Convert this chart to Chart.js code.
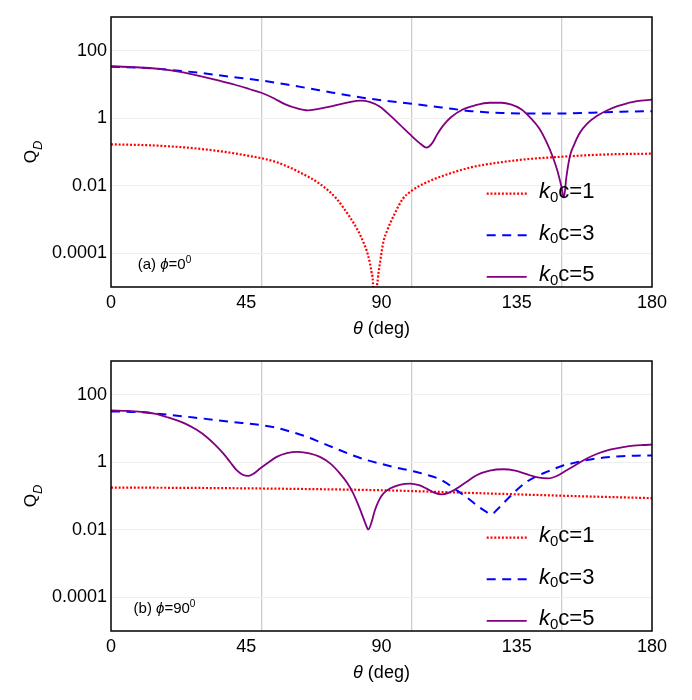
<!DOCTYPE html>
<html>
<head>
<meta charset="utf-8">
<script src="https://cdn.jsdelivr.net/npm/chart.js@4.4.1/dist/chart.umd.min.js"></script>
<style>
body { margin: 0; background: #fff; }
#wrap { position: relative; width: 692px; height: 700px; }
.panel { position: absolute; left: 0; width: 692px; }
</style>
</head>
<body>
<div id="wrap">
  <div class="panel" style="top:0;height:344px"><canvas id="chartA"></canvas></div>
  <div class="panel" style="top:344px;height:356px"><canvas id="chartB"></canvas></div>
</div>
<script>
// axes
const xTickValues = [0, 45, 90, 135, 180];
const xGridValues = [50, 100, 150];
const yTickValues = [0.0001, 0.01, 1, 100];
const yTickLabels = ["0.0001", "0.01", "1", "100"];
const kValues = [1, 3, 5];

// (a) phi = 0
const thetaA1 = [0, 15, 30, 45, 55, 63, 70, 75, 79, 82, 84, 85.5, 86.7, 87.3, 87.7, 88.2, 88.8, 89.5, 90.6, 92, 94, 97, 100, 105, 110, 120, 130, 140, 150, 160, 170, 180];
const qA1 = [0.169, 0.155, 0.123, 0.0794, 0.0501, 0.0245, 0.0105, 0.00417, 0.00135, 0.0005, 0.00021, 0.000089, 0.000027, 0.0000063, 0.00000001, 0.0000032, 0.000018, 0.000052, 0.00021, 0.0005, 0.00126, 0.00398, 0.0071, 0.0126, 0.019, 0.0355, 0.0501, 0.0631, 0.0724, 0.0813, 0.0871, 0.0891];

const thetaA3 = [0, 10, 20, 30, 40, 50, 60, 70, 80, 90, 100, 110, 120, 130, 140, 150, 160, 170, 180];
const qA3 = [33.3, 31.6, 26.9, 21.9, 16.8, 13.1, 9.44, 6.61, 4.57, 3.39, 2.69, 2.09, 1.62, 1.43, 1.38, 1.38, 1.46, 1.57, 1.62];

const thetaA5 = [0, 7, 16, 24, 30, 36, 41, 46, 50, 54, 58, 62, 65.5, 69, 74, 79, 83, 86, 89.5, 93, 96, 99.5, 102.5, 105, 107, 108.5, 110.5, 113, 117, 121, 126, 130, 133, 136.5, 139.5, 142.5, 145, 147, 148.5, 149.8, 150.7, 151.5, 152.7, 154, 156, 158.5, 161.5, 165, 168.5, 172, 175, 180];
const qA5 = [34.75, 32.9, 29.1, 22.9, 17.4, 12.97, 10, 7.36, 5.69, 3.98, 2.57, 1.95, 1.72, 1.91, 2.34, 2.95, 3.31, 3.05, 2.19, 1.17, 0.66, 0.331, 0.19, 0.135, 0.19, 0.331, 0.603, 1.05, 1.82, 2.4, 2.88, 2.88, 2.57, 1.86, 1.05, 0.5, 0.19, 0.0708, 0.0282, 0.01, 0.00447, 0.0178, 0.0759, 0.158, 0.372, 0.708, 1.15, 1.7, 2.29, 2.82, 3.24, 3.55];

// (b) phi = 90
const thetaB1 = [0, 30, 60, 90, 120, 150, 180];
const qB1 = [0.178, 0.173, 0.163, 0.148, 0.123, 0.102, 0.0863];

const thetaB3 = [0, 10, 20, 30, 40, 50, 55, 60, 65, 70, 75, 80, 85, 90, 95, 100, 105, 110, 115, 118.5, 121.6, 124.5, 126.6, 128.5, 131.6, 135, 138.3, 141.5, 145, 150, 155, 160, 165, 170, 175, 180];
const qB3 = [32.1, 30.2, 25.1, 20.0, 15.8, 12.6, 10.5, 7.94, 5.75, 3.8, 2.51, 1.66, 1.17, 0.891, 0.692, 0.555, 0.427, 0.295, 0.148, 0.0891, 0.0537, 0.0355, 0.029, 0.0398, 0.0759, 0.151, 0.263, 0.38, 0.518, 0.776, 1.0, 1.23, 1.41, 1.51, 1.57, 1.58];

const thetaB5 = [0, 6, 11, 15, 18.5, 22, 25.2, 28.5, 31.8, 34.5, 37.4, 39.7, 41.8, 43.8, 45.7, 47.6, 49.6, 52, 55.1, 58.5, 62.3, 66, 69.5, 73, 76.2, 78.5, 80.6, 82.2, 83.4, 84.6, 85.6, 86.6, 87.8, 89.2, 90.6, 92.8, 96, 99.5, 102.5, 105, 107.5, 110, 112.5, 115, 118, 121.6, 126, 130.5, 134.5, 138.3, 142, 145.5, 148.5, 151.6, 155, 158.3, 162, 166, 170, 173.8, 177, 180];
const qB5 = [34.4, 33.1, 30.8, 26.9, 21.9, 17.4, 13.3, 9.12, 5.62, 3.39, 1.8, 1.0, 0.581, 0.427, 0.394, 0.468, 0.65, 0.933, 1.44, 1.86, 2.02, 1.82, 1.44, 0.912, 0.462, 0.251, 0.12, 0.0562, 0.0302, 0.0158, 0.0102, 0.0158, 0.038, 0.0759, 0.117, 0.166, 0.214, 0.234, 0.209, 0.166, 0.126, 0.111, 0.126, 0.166, 0.251, 0.413, 0.562, 0.621, 0.562, 0.442, 0.355, 0.331, 0.398, 0.581, 0.871, 1.29, 1.82, 2.37, 2.75, 3.09, 3.24, 3.33];

// styles
const lineColors = ["#ff0000", "#0000ff", "#800080"];
const lineDashes = [[2, 1.8], [9, 6.5], []];
const lineWidths = [2.2, 2, 1.8];
const FONT = '"Liberation Sans", Arial, Helvetica, sans-serif';

function drawRuns(ctx, runs, x, y, align) {
    let total = 0;
    runs.forEach(r => {
        ctx.font = (r.it ? "italic " : "") + r.size + "px " + FONT;
        r.w = ctx.measureText(r.t).width;
        total += r.w;
    });
    let cx = align === "center" ? x - total / 2 : x;
    runs.forEach(r => {
        ctx.font = (r.it ? "italic " : "") + r.size + "px " + FONT;
        ctx.fillText(r.t, cx, y + (r.dy || 0));
        cx += r.w;
    });
}

const framePlugin = {
    id: "frame",
    afterDraw(chart) {
        const a = chart.chartArea, ctx = chart.ctx;
        ctx.save();
        ctx.strokeStyle = "#000";
        ctx.lineWidth = 1.5;
        ctx.strokeRect(a.left, a.top, a.right - a.left, a.bottom - a.top);
        ctx.restore();
    }
};

const textPlugin = {
    id: "texts",
    afterDraw(chart, args, opts) {
        const a = chart.chartArea, ctx = chart.ctx;
        ctx.save();
        ctx.fillStyle = "#000";
        ctx.textBaseline = "alphabetic";

        // x title
        drawRuns(ctx, [{t: "\u03B8", it: true, size: 18}, {t: " (deg)", size: 18}],
            (a.left + a.right) / 2, a.bottom + 47, "center");

        // y title
        ctx.save();
        ctx.translate(36, (a.top + a.bottom) / 2);
        ctx.rotate(-Math.PI / 2);
        drawRuns(ctx, [{t: "Q", size: 17}, {t: "D", it: true, size: 13, dy: 5.5}], 0, 0, "center");
        ctx.restore();

        // panel tag
        drawRuns(ctx, [{t: opts.tag + " ", size: 15}, {t: "\u03D5", it: true, size: 15},
            {t: "=" + opts.phi, size: 15}, {t: "0", size: 10, dy: -6}],
            a.left + 53.5, a.top + 252, "center");

        // legend
        chart.data.datasets.forEach((ds, i) => {
            const ly = a.top + 176.7 + i * 41.6;
            ctx.save();
            ctx.strokeStyle = ds.borderColor;
            ctx.lineWidth = ds.borderWidth;
            ctx.setLineDash(ds.borderDash);
            ctx.beginPath();
            ctx.moveTo(a.left + 375.7, ly);
            ctx.lineTo(a.left + 415.7, ly);
            ctx.stroke();
            ctx.restore();
            drawRuns(ctx, [{t: "k", it: true, size: 22}, {t: "0", size: 15, dy: 3.5},
                {t: "c=" + ds.k, size: 22}], a.left + 428, ly + 4.5, "left");
        });
        ctx.restore();
    }
};

function makePanel(id, height, series, tag, phi) {
    const xMarks = xTickValues.concat(xGridValues).sort((p, q) => p - q);
    return new Chart(document.getElementById(id), {
        type: "line",
        data: {
            datasets: series.map((s, i) => ({
                label: "k\u2080c=" + kValues[i],
                k: kValues[i],
                data: s[0].map((t, j) => ({x: t, y: s[1][j]})),
                borderColor: lineColors[i],
                borderDash: lineDashes[i],
                borderWidth: lineWidths[i],
                pointRadius: 0,
                fill: false,
                order: series.length - 1 - i,
                cubicInterpolationMode: "monotone"
            }))
        },
        options: {
            responsive: true,
            maintainAspectRatio: false,
            animation: false,
            layout: {padding: {top: 17, right: 40, left: 0, bottom: 0}},
            plugins: {
                legend: {display: false},
                tooltip: {enabled: false},
                texts: {tag: tag, phi: phi}
            },
            scales: {
                x: {
                    type: "linear",
                    min: 0,
                    max: 180,
                    afterBuildTicks: s => { s.ticks = xMarks.map(v => ({value: v})); },
                    afterFit: s => { s.height = height - 287; },
                    ticks: {
                        autoSkip: false,
                        maxRotation: 0,
                        padding: 5,
                        color: "#000",
                        font: {family: FONT, size: 18},
                        callback: v => xTickValues.includes(v) ? String(v) : ""
                    },
                    grid: {
                        drawTicks: false,
                        lineWidth: 1.3,
                        color: c => (c.tick && xGridValues.includes(c.tick.value)) ? "#cccccc" : "rgba(0,0,0,0)"
                    },
                    border: {display: false}
                },
                y: {
                    type: "logarithmic",
                    min: 0.00001,
                    max: 1000,
                    afterBuildTicks: s => { s.ticks = yTickValues.map(v => ({value: v})); },
                    afterFit: s => { s.width = 111; },
                    ticks: {
                        padding: 4,
                        color: "#000",
                        font: {family: FONT, size: 18},
                        callback: v => yTickLabels[yTickValues.indexOf(v)]
                    },
                    grid: {drawTicks: false, lineWidth: 1, color: "#eeeeee"},
                    border: {display: false}
                }
            }
        },
        plugins: [framePlugin, textPlugin]
    });
}

makePanel("chartA", 344, [[thetaA1, qA1], [thetaA3, qA3], [thetaA5, qA5]], "(a)", "0");
makePanel("chartB", 356, [[thetaB1, qB1], [thetaB3, qB3], [thetaB5, qB5]], "(b)", "90");
</script>
</body>
</html>
